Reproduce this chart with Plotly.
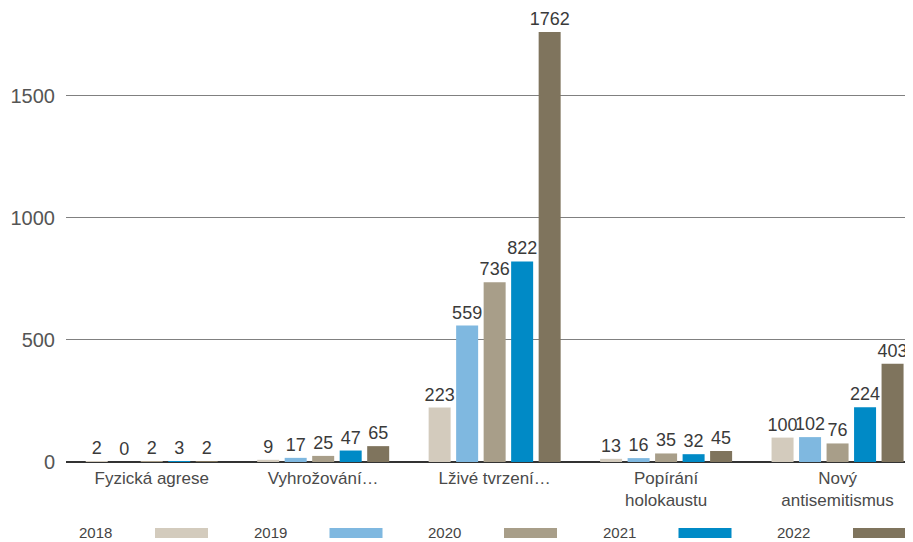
import plotly.graph_objects as go

# data
categories = ["Fyzická agrese", "Vyhrožování…", "Lživé tvrzení…", "Popírání<br>holokaustu", "Nový<br>antisemitismus"]
years = ["2018", "2019", "2020", "2021", "2022"]
v2018 = [2, 9, 223, 13, 100]
v2019 = [0, 17, 559, 16, 102]
v2020 = [2, 25, 736, 35, 76]
v2021 = [3, 47, 822, 32, 224]
v2022 = [2, 65, 1762, 45, 403]
series = [v2018, v2019, v2020, v2021, v2022]
colors = ["#d3cbbd", "#7fb8e0", "#a89e89", "#008ac6", "#7f745d"]

fig = go.Figure()
for name, vals, col in zip(years, series, colors):
    fig.add_trace(go.Bar(
        x=categories, y=vals, name=name,
        marker=dict(color=col, line=dict(width=0)),
        text=[str(v) for v in vals], textposition="outside",
        constraintext="none",
        textfont=dict(size=18, color="#3a3a3a"),
        cliponaxis=False, showlegend=False,
    ))

# legend drawn by hand: label on the left, swatch on the right
# (page body has an 8px margin, so positions are relative to the plot area)
for i, (name, col) in enumerate(zip(years, colors)):
    x0 = 155 + i * 174.5
    fig.add_annotation(x=(x0 - 41 - 66) / 847, y=-0.157, xref="paper", yref="paper",
                       text=name, showarrow=False, xanchor="right", yanchor="middle",
                       font=dict(size=15, color="#444"))
    fig.add_shape(type="rect", xref="paper", yref="paper",
                  x0=(x0 - 66) / 847, x1=(x0 + 53 - 66) / 847,
                  y0=-0.168, y1=-0.146, fillcolor=col, line=dict(width=0))

fig.update_layout(
    width=905, height=534,
    margin=dict(l=58, r=0, t=2, b=80),
    paper_bgcolor="white", plot_bgcolor="white",
    barmode="group", bargap=0.198, bargroupgap=0.2,
    font=dict(family="Liberation Sans, Arial, sans-serif", color="#444"),
)
# last category runs a little past the right edge in the original
fig.update_xaxes(range=[-0.5, 4.44], showgrid=False, showline=False, ticks="",
                 tickfont=dict(size=17, color="#4a4a4a"), ticklabelstandoff=4)
fig.update_yaxes(range=[0, 1852], tickvals=[0, 500, 1000, 1500],
                 showgrid=True, gridcolor="#808080", gridwidth=1,
                 zeroline=True, zerolinecolor="#333", zerolinewidth=1.5,
                 tickfont=dict(size=20, color="#555"), ticks="", ticklabelstandoff=10)

fig.write_html("out.html")
